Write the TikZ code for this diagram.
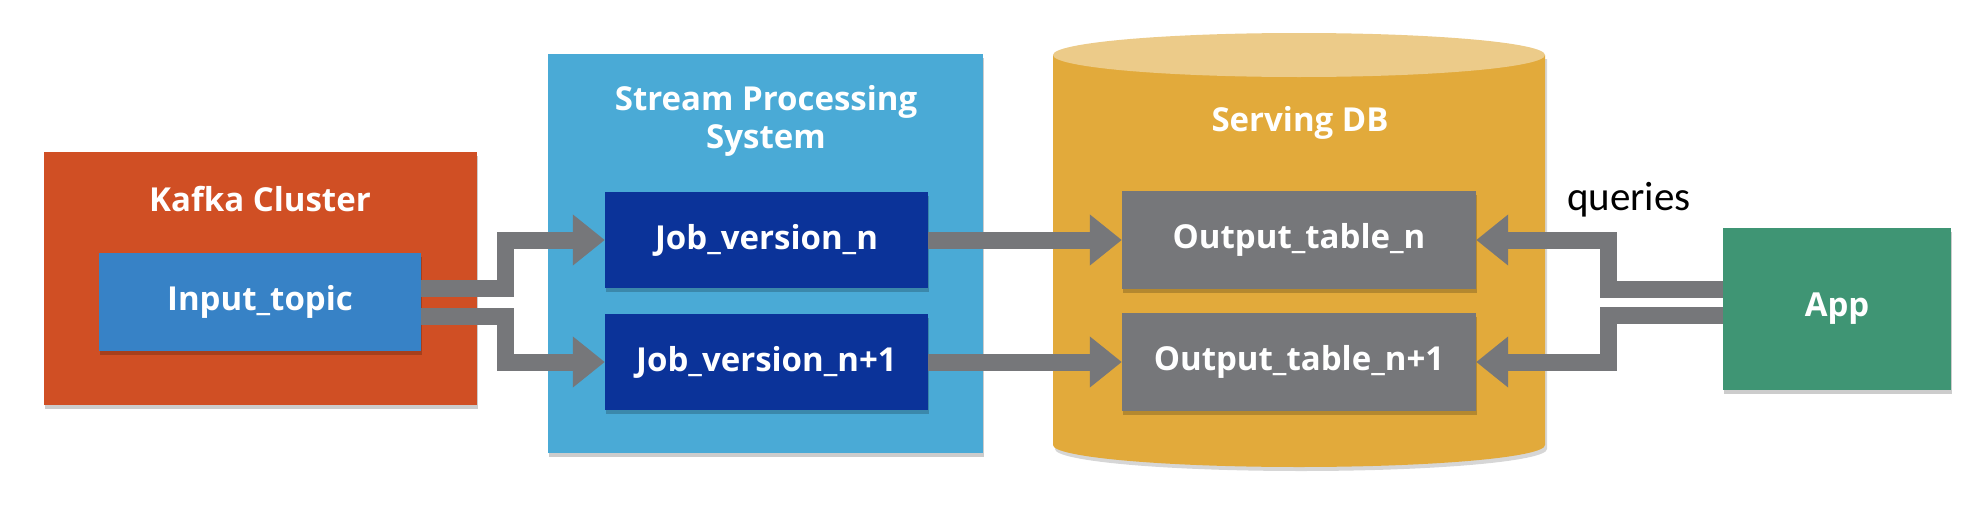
\documentclass[tikz,border=0pt]{standalone}
\usepackage{fontspec}
\setmainfont{Open Sans}
\newfontfamily\qfont{Carlito}
\usetikzlibrary{arrows.meta,calc,shadows}
\definecolor{kafka}{HTML}{D04F24}
\definecolor{topic}{HTML}{3782C6}
\definecolor{stream}{HTML}{4AAAD6}
\definecolor{job}{HTML}{0B3399}
\definecolor{db}{HTML}{E2AA3B}
\definecolor{dbtop}{HTML}{ECCB89}
\definecolor{outbox}{HTML}{76777A}
\definecolor{flowgray}{HTML}{76777A}
\definecolor{app}{HTML}{3F9574}
\tikzset{
  box/.style={draw=none,inner sep=0pt,text=white,font=\fontsize{33}{38}\selectfont\bfseries,
    drop shadow={shadow xshift=1pt,shadow yshift=-4pt,opacity=0.2,fill=black}},
  title/.style={text=white,font=\fontsize{33}{38}\selectfont\bfseries,align=center,inner sep=0pt},
  flow/.style={draw=flowgray,line width=17pt,line join=miter,line cap=butt,
    -{Triangle[length=32pt,width=49pt]}}
}
\begin{document}
\begin{tikzpicture}[x=1pt,y=-1pt]
\useasboundingbox (0,0) rectangle (1986,506);
% Kafka cluster
\node[box,fill=kafka,minimum width=433pt,minimum height=253pt] (kafka) at (260.5,278.5) {};
\node[title] (kafkat) at (260,199) {Kafka Cluster};
\node[box,fill=topic,minimum width=322pt,minimum height=98pt] (in) at (260,302) {Input\_topic};
% Stream processing
\node[box,fill=stream,minimum width=435pt,minimum height=399pt] (sps) at (765.5,253.5) {};
\node[title] (spst) at (766,121) {Stream Processing\\System};
\node[box,fill=job,minimum width=323pt,minimum height=96pt] (jn) at (766.5,240) {Job\_version\_n};
\node[box,fill=job,minimum width=323pt,minimum height=96pt] (jn1) at (766.5,362) {Job\_version\_n+1};
% Serving DB cylinder
\fill[black,opacity=0.16] (1055,59) -- (1055,449) arc[start angle=180,end angle=360,x radius=246pt,y radius=22pt] -- (1547,59) -- cycle;
\fill[db] (1053,55) -- (1053,445) arc[start angle=180,end angle=360,x radius=246pt,y radius=22pt] -- (1545,55) -- cycle;
\fill[dbtop] (1299,55) ellipse[x radius=246pt,y radius=22pt];
\node[title] (dbt) at (1300,123) {Serving DB};
\node[box,fill=outbox,minimum width=354pt,minimum height=98pt] (on) at (1299,240) {Output\_table\_n};
\node[box,fill=outbox,minimum width=354pt,minimum height=98pt] (on1) at (1299,362) {Output\_table\_n+1};
% App
\node[box,fill=app,minimum width=228pt,minimum height=162pt] (app) at (1837,309) {App};
\node[inner sep=0pt,font=\qfont\fontsize{41}{48}\selectfont] (q) at (1629,200) {queries};
% connectors
\draw[flow] ($(in.east)+(0,-14)$) -| ($(jn.west)+(-99,0)$) -- (jn.west);
\draw[flow] ($(in.east)+(0,14)$) -| ($(jn1.west)+(-99,0)$) -- (jn1.west);
\draw[flow] (jn.east) -- (on.west);
\draw[flow] (jn1.east) -- (on1.west);
\draw[flow] ($(app.west)+(0,-19.5)$) -| ($(on.east)+(132,0)$) -- (on.east);
\draw[flow] ($(app.west)+(0,6.5)$) -| ($(on1.east)+(132,0)$) -- (on1.east);
\end{tikzpicture}
\end{document}
